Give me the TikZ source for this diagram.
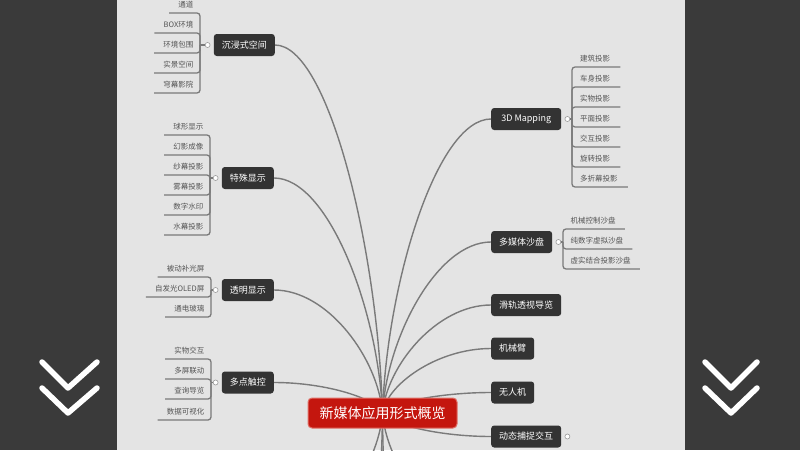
\documentclass[tikz,border=0pt]{standalone}
\usepackage{fontspec}
\setmainfont{Noto Sans CJK SC}
\usetikzlibrary{calc}
\definecolor{bgmain}{HTML}{E4E4E4}
\definecolor{sidebar}{HTML}{3A3A3A}
\definecolor{nodefill}{HTML}{333333}
\definecolor{rootred}{HTML}{C4160E}
\definecolor{rootedge}{HTML}{E07068}
\definecolor{linegray}{HTML}{7A7A7A}
\definecolor{leaftext}{HTML}{555555}
\definecolor{markgray}{HTML}{9A9A9A}
\pgfdeclarelayer{bglayer}
\pgfdeclarelayer{edgelayer}
\pgfsetlayers{bglayer,edgelayer,main}
\tikzset{
 mmtopic/.style={fill=nodefill, text=white, rounded corners=3pt, minimum height=22pt, inner xsep=8pt, inner ysep=0pt, font=\fontsize{9}{10}\selectfont},
 mmroot/.style={fill=rootred, draw=rootedge, line width=1pt, text=white, rounded corners=4pt, minimum height=30pt, minimum width=149pt, font=\fontsize{14}{16}\selectfont},
 mmleaf/.style={text=leaftext, inner xsep=0pt, inner ysep=4pt, text height=6.5pt, text depth=1.2pt, font=\fontsize{7.5}{8}\selectfont},
 mmbranch/.style={draw=linegray, line width=1.4pt},
 mmleafline/.style={draw=linegray, line width=1.3pt, rounded corners=3pt},
 foldmark/.style={circle, fill=white, draw=markgray, line width=0.6pt, inner sep=0pt, minimum size=5pt},
 chevron/.style={draw=white, line width=5.5pt, line cap=round, line join=round},
}
\newcommand\mmcurve[2]{\draw[mmbranch] let \p1=(#1), \p2=(#2) in (\p1) .. controls ({\x1+0.04*(\x2-\x1)},{\y1+0.44*(\y2-\y1)}) and ({0.5*(\x1+\x2)},\y2) .. (\p2);}
\begin{document}
\begin{tikzpicture}[x=1pt,y=-1pt]
\useasboundingbox (0,0) rectangle (800,450);
\begin{pgfonlayer}{bglayer}
\fill[bgmain] (0,0) rectangle (800,450);
\fill[sidebar] (0,0) rectangle (117,450);
\fill[sidebar] (685,0) rectangle (800,450);
\end{pgfonlayer}
% chevrons
\draw[chevron] (42,362) -- (68,388) -- (97,362);
\draw[chevron] (42,388) -- (68,413) -- (97,388);
\draw[chevron] (705,362) -- (731,388) -- (757,362);
\draw[chevron] (705,388) -- (731,413) -- (757,388);

% root
\node[mmroot] (root) at (382.5,413) {新媒体应用形式概览};

% left topics
\node[mmtopic, anchor=east] (t1) at (275,45) {沉浸式空间};
\node[mmtopic, anchor=east] (t2) at (274,178) {特殊显示};
\node[mmtopic, anchor=east] (t3) at (274,290) {透明显示};
\node[mmtopic, anchor=east] (t4) at (274,382.5) {多点触控};
% right topics
\node[mmtopic, anchor=west, minimum width=70pt] (r1) at (491,119) {3D Mapping};
\node[mmtopic, anchor=west] (r2) at (491,242) {多媒体沙盘};
\node[mmtopic, anchor=west] (r3) at (491,305) {滑轨透视导览};
\node[mmtopic, anchor=west] (r4) at (491,348.5) {机械臂};
\node[mmtopic, anchor=west] (r5) at (491,392.5) {无人机};
\node[mmtopic, anchor=west] (r6) at (491,436.5) {动态捕捉交互};

% offscreen continuation points
\coordinate (d1) at (300,520);
\coordinate (d2) at (368,560);
\coordinate (d3) at (393,560);
\coordinate (d4) at (470,520);

\begin{pgfonlayer}{edgelayer}
\mmcurve{root.center}{t1.east}
\mmcurve{root.center}{t2.east}
\mmcurve{root.center}{t3.east}
\mmcurve{root.center}{t4.east}
\mmcurve{root.center}{r1.west}
\mmcurve{root.center}{r2.west}
\mmcurve{root.center}{r3.west}
\mmcurve{root.center}{r4.west}
\mmcurve{root.center}{r5.west}
\mmcurve{root.center}{r6.west}
\mmcurve{root.center}{d1}
\mmcurve{root.center}{d2}
\mmcurve{root.center}{d3}
\mmcurve{root.center}{d4}
\end{pgfonlayer}

% fold markers
\node[foldmark] (m1) at ([xshift=-6pt]t1.west) {};
\node[foldmark] (m2) at ([xshift=-6pt]t2.west) {};
\node[foldmark] (m3) at ([xshift=-6pt]t3.west) {};
\node[foldmark] (m4) at ([xshift=-6pt]t4.west) {};
\node[foldmark] (mr1) at ([xshift=6pt]r1.east) {};
\node[foldmark] (mr2) at ([xshift=6pt]r2.east) {};
\node[foldmark] (mr6) at ([xshift=6pt]r6.east) {};

% junctions
\coordinate (j1) at (200,45);
\coordinate (j2) at (210,178);
\coordinate (j3) at (211,290);
\coordinate (j4) at (211,382.5);
\coordinate (jr1) at (572,119);
\coordinate (jr2) at (563,242);

% group 1 leaves
\node[mmleaf, anchor=south east] (a1) at (193.5,13) {通道};
\node[mmleaf, anchor=south east] (a2) at (193.5,33) {BOX环境};
\node[mmleaf, anchor=south east] (a3) at (193.5,53) {环境包围};
\node[mmleaf, anchor=south east] (a4) at (193.5,73) {实景空间};
\node[mmleaf, anchor=south east] (a5) at (193.5,93) {穹幕影院};
\draw[mmleafline] (m1.west) -- (j1);
\foreach \n in {a1,a2,a3,a4,a5}{\draw[mmleafline] (j1) |- ([xshift=-9pt]\n.south west);}

% group 2 leaves
\node[mmleaf, anchor=south east] (b1) at (203.5,135) {球形显示};
\node[mmleaf, anchor=south east] (b2) at (203.5,155) {幻影成像};
\node[mmleaf, anchor=south east] (b3) at (203.5,175) {纱幕投影};
\node[mmleaf, anchor=south east] (b4) at (203.5,195) {雾幕投影};
\node[mmleaf, anchor=south east] (b5) at (203.5,215) {数字水印};
\node[mmleaf, anchor=south east] (b6) at (203.5,235) {水幕投影};
\draw[mmleafline] (m2.west) -- (j2);
\foreach \n in {b1,b2,b3,b4,b5,b6}{\draw[mmleafline] (j2) |- ([xshift=-9pt]\n.south west);}

% group 3 leaves
\node[mmleaf, anchor=south east] (c1) at (204.5,277) {被动补光屏};
\node[mmleaf, anchor=south east] (c2) at (204.5,297) {自发光OLED屏};
\node[mmleaf, anchor=south east] (c3) at (204.5,317) {通电玻璃};
\draw[mmleafline] (m3.west) -- (j3);
\foreach \n in {c1,c2,c3}{\draw[mmleafline] (j3) |- ([xshift=-9pt]\n.south west);}

% group 4 leaves
\node[mmleaf, anchor=south east] (e1) at (204.5,359) {实物交互};
\node[mmleaf, anchor=south east] (e2) at (204.5,379) {多屏联动};
\node[mmleaf, anchor=south east] (e3) at (204.5,399) {查询导览};
\node[mmleaf, anchor=south east] (e4) at (204.5,420) {数据可视化};
\draw[mmleafline] (m4.west) -- (j4);
\foreach \n in {e1,e2,e3,e4}{\draw[mmleafline] (j4) |- ([xshift=-9pt]\n.south west);}

% right group 1 leaves
\node[mmleaf, anchor=south west] (f1) at (580,67) {建筑投影};
\node[mmleaf, anchor=south west] (f2) at (580,87) {车身投影};
\node[mmleaf, anchor=south west] (f3) at (580,107) {实物投影};
\node[mmleaf, anchor=south west] (f4) at (580,127) {平面投影};
\node[mmleaf, anchor=south west] (f5) at (580,147) {交互投影};
\node[mmleaf, anchor=south west] (f6) at (580,167) {旋转投影};
\node[mmleaf, anchor=south west] (f7) at (580,187) {多折幕投影};
\draw[mmleafline] (mr1.east) -- (jr1);
\foreach \n in {f1,f2,f3,f4,f5,f6,f7}{\draw[mmleafline] (jr1) |- ([xshift=10pt]\n.south east);}

% right group 2 leaves
\node[mmleaf, anchor=south west] (g1) at (570.5,229) {机械控制沙盘};
\node[mmleaf, anchor=south west] (g2) at (570.5,249) {纯数字虚拟沙盘};
\node[mmleaf, anchor=south west] (g3) at (570.5,269) {虚实结合投影沙盘};
\draw[mmleafline] (mr2.east) -- (jr2);
\foreach \n in {g1,g2,g3}{\draw[mmleafline] (jr2) |- ([xshift=9pt]\n.south east);}
\end{tikzpicture}
\end{document}
